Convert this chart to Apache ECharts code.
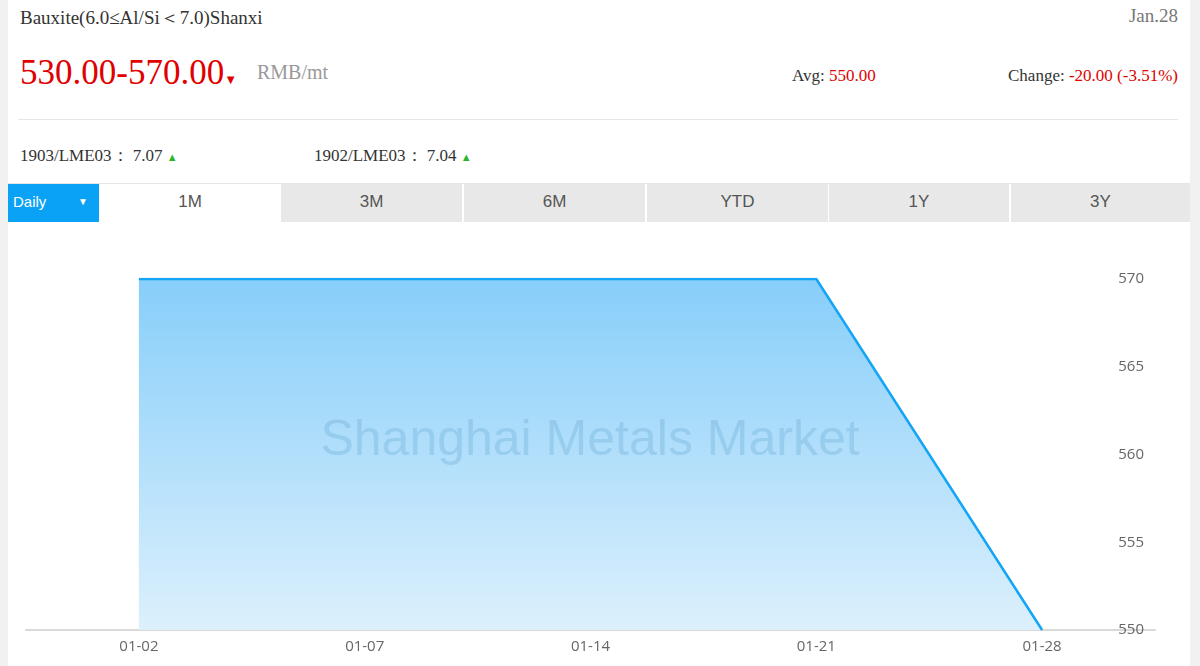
<!DOCTYPE html>
<html>
<head>
<meta charset="utf-8">
<script src="https://cdn.jsdelivr.net/npm/echarts@6/dist/echarts.min.js"></script>
<style>
  html, body { margin: 0; padding: 0; background: #f1f1f1; width: 1200px; height: 666px; overflow: hidden; }
  #panel { position: absolute; left: 8px; top: 0; width: 1182px; height: 666px; background: #fff; }
  .serif { font-family: "Liberation Serif", "DejaVu Serif", serif; }
  .abs { position: absolute; white-space: nowrap; }
  #tabs { position: absolute; left: 0; top: 183px; width: 1182px; height: 38px; border-top: 1px solid #e6e6e6; }
  .tab { position: absolute; top: 0; height: 38px; line-height: 36px; text-align: center; background: #e8e8e8; color: #555;
         font-family: "Liberation Sans", Arial, sans-serif; font-size: 17px; }
  #chart { position: absolute; left: 0; top: 221px; width: 1182px; height: 445px; }
</style>
</head>
<body>
<div id="panel">
  <div class="abs serif" style="left:12px; top:5px; font-size:19px; color:#333;">Bauxite(6.0≤Al/Si<span style="display:inline-block; width:20px; text-align:center;">＜</span>7.0)Shanxi</div>
  <div class="abs serif" style="right:12px; top:5px; font-size:19px; color:#777;">Jan.28</div>
  <div class="abs serif" style="left:12px; top:53px; font-size:35px; color:#e00000;">530.00-570.00<span style="font-size:13px;">▼</span></div>
  <div class="abs serif" style="left:249px; top:61px; font-size:20px; color:#999;">RMB/mt</div>
  <div class="abs serif" style="left:784px; top:66px; font-size:17px; color:#333;">Avg: <span style="color:#e00000;">550.00</span></div>
  <div class="abs serif" style="right:12px; top:66px; font-size:17px; color:#333;">Change: <span style="color:#e00000;">-20.00 (-3.51%)</span></div>
  <div class="abs" style="left:10px; top:119px; width:1160px; height:1px; background:#e6e6e6;"></div>
  <div class="abs serif" style="left:12px; top:144px; font-size:17px; color:#333;">1903/LME03：&nbsp;7.07&nbsp;<span style="color:#2db52d; font-size:11px;">▲</span></div>
  <div class="abs serif" style="left:306px; top:144px; font-size:17px; color:#333;">1902/LME03：&nbsp;7.04&nbsp;<span style="color:#2db52d; font-size:11px;">▲</span></div>
  <div id="tabs">
    <div class="tab" style="left:0; width:91px; background:#0aa2f5; color:#fff; text-align:left; font-size:15px;"><span style="margin-left:5px;">Daily</span><span style="position:absolute; left:70px; font-size:10px;">▼</span></div>
    <div class="tab" style="left:91px; width:182px; background:#fff;">1M</div>
    <div class="tab" style="left:273px; width:181px;">3M</div>
    <div class="tab" style="left:456px; width:181px;">6M</div>
    <div class="tab" style="left:639px; width:181px;">YTD</div>
    <div class="tab" style="left:821px; width:180px;">1Y</div>
    <div class="tab" style="left:1003px; width:179px;">3Y</div>
  </div>
  <div id="chart"></div>
</div>
<script>
const dates = ['01-02', '01-07', '01-14', '01-21', '01-28'];
const prices = [570, 570, 570, 570, 550];
const yMin = 550, yMax = 570, yStep = 5;

const chart = echarts.init(document.getElementById('chart'));
chart.setOption({
  animation: false,
  grid: { left: 18, right: 35, top: 58, bottom: 36, containLabel: false },
  graphic: [{
    type: 'text', x: 582, y: 220,
    style: { text: 'Shanghai Metals Market', fontSize: 50, fontFamily: '"Liberation Sans", Arial, sans-serif',
             fill: 'rgba(100,165,205,0.3)', align: 'center', verticalAlign: 'middle' },
    z: 10
  }],
  xAxis: {
    type: 'category', data: dates, boundaryGap: true,
    axisLine: { show: true, lineStyle: { color: '#d9d9d9', width: 2 } },
    axisTick: { show: false },
    axisLabel: { color: '#666', fontSize: 15, margin: 9, fontFamily: '"Open Sans", "Noto Sans", sans-serif' },
    splitLine: { show: false }
  },
  yAxis: {
    type: 'value', position: 'right', min: yMin, max: yMax, interval: yStep,
    axisLine: { show: false }, axisTick: { show: false }, splitLine: { show: false },
    axisLabel: { inside: true, color: '#666', fontSize: 15, margin: 11, verticalAlign: 'middle',
                 fontFamily: '"Open Sans", "Noto Sans", sans-serif' }
  },
  series: [{
    type: 'line', data: prices, symbol: 'none',
    lineStyle: { color: '#14a5f5', width: 2.5 },
    areaStyle: {
      opacity: 1,
      color: new echarts.graphic.LinearGradient(0, 0, 0, 1, [
        { offset: 0, color: '#87cefa' },
        { offset: 1, color: '#dcf0fc' }
      ])
    }
  }]
});
</script>
</body>
</html>
